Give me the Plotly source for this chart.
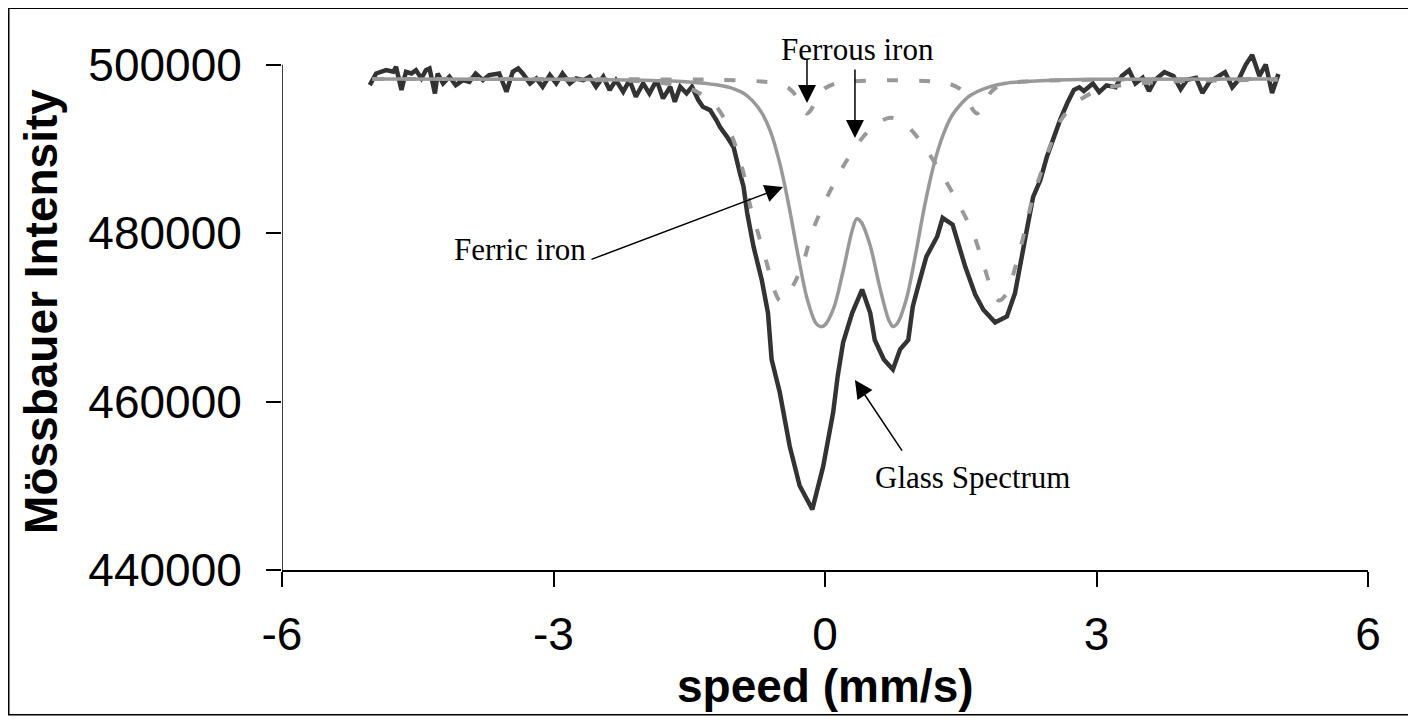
import plotly.graph_objects as go

# measured glass spectrum (speed in mm/s, counts)
speed_glass = [
    -5.03, -4.96, -4.85, -4.77, -4.74, -4.68, -4.63, -4.57, -4.52, -4.46,
    -4.41, -4.37, -4.31, -4.28, -4.22, -4.15, -4.08, -4.00, -3.93, -3.86,
    -3.78, -3.71, -3.60, -3.52, -3.45, -3.39, -3.34, -3.26, -3.19, -3.12,
    -3.04, -2.97, -2.90, -2.82, -2.75, -2.67, -2.60, -2.53, -2.45, -2.38,
    -2.31, -2.23, -2.16, -2.09, -2.01, -1.94, -1.86, -1.79, -1.71, -1.66,
    -1.60, -1.53, -1.47, -1.40, -1.35, -1.27, -1.20, -1.16, -1.08, -1.01,
    -0.94, -0.90, -0.86, -0.79, -0.70, -0.63, -0.59, -0.50, -0.39, -0.28,
    -0.14, -0.02, 0.09, 0.14, 0.20, 0.30, 0.41, 0.50, 0.55, 0.65,
    0.75, 0.83, 0.92, 0.97, 1.05, 1.12, 1.24, 1.30, 1.41, 1.55,
    1.66, 1.75, 1.88, 2.01, 2.10, 2.15, 2.23, 2.30, 2.38, 2.45,
    2.52, 2.60, 2.68, 2.75, 2.81, 2.86, 2.96, 3.03, 3.11, 3.21,
    3.28, 3.36, 3.43, 3.51, 3.58, 3.65, 3.75, 3.85, 3.93, 4.00,
    4.10, 4.17, 4.25, 4.35, 4.42, 4.50, 4.57, 4.65, 4.72, 4.80,
    4.87, 4.94, 5.01,
]
counts_glass = [
    497570, 498950, 499350, 499150, 499740, 496980, 499150, 498950, 499350, 498360,
    499350, 499550, 496580, 498950, 497770, 498560, 497570, 498160, 497960, 498950,
    498160, 498760, 498950, 496780, 499150, 499550, 498950, 497770, 498360, 497370,
    498760, 497770, 498950, 497770, 498360, 498160, 498560, 497370, 498560, 496980,
    498160, 496780, 498160, 496190, 497770, 496580, 498160, 495990, 497370, 495590,
    497370, 496580, 497370, 495800, 495000, 494600, 493400, 492600, 491400, 490200,
    487100, 485500, 482400, 478400, 474500, 470500, 465000, 461100, 454700, 450000,
    447200, 452300, 458700, 463000, 467000, 470500, 473300, 470500, 467300, 465000,
    463800, 466200, 467300, 471300, 474500, 477200, 479600, 481800, 481000, 476000,
    472700, 470900, 469400, 470100, 472900, 476000, 480400, 484300, 486300, 489000,
    491200, 493500, 495500, 497000, 497310, 496860, 497760, 496740, 497540, 497310,
    498660, 499340, 497760, 498440, 496860, 498210, 499110, 498660, 497090, 498210,
    498440, 496640, 497990, 498660, 499110, 497310, 498210, 500010, 501140, 498660,
    500010, 496640, 498890,
]

# fitted ferric doublet
speed_ferric = [
    -5.0, -3.0, -2.0, -1.5, -1.2, -1.0, -0.9, -0.8, -0.7, -0.6,
    -0.5, -0.4, -0.3, -0.2, -0.1, -0.05, 0.0, 0.1, 0.2, 0.3,
    0.35, 0.4, 0.5, 0.6, 0.7, 0.75, 0.8, 0.9, 1.0, 1.1,
    1.2, 1.3, 1.4, 1.5, 1.6, 1.8, 2.0, 2.5, 3.0, 5.0,
]
counts_ferric = [
    498300, 498250, 498150, 497950, 497600, 497100, 496600, 495700, 494300, 492000,
    488300, 483300, 477500, 472300, 469300, 468900, 469100, 471200, 475500, 480300,
    481700, 481300, 478500, 473800, 469800, 468900, 469300, 472200, 477400, 483200,
    488000, 491500, 493900, 495300, 496300, 497300, 497800, 498150, 498250, 498300,
]

# fitted ferrous doublet (broad)
speed_ferrous = [
    -5.0, -3.0, -2.0, -1.6, -1.4, -1.2, -1.1, -1.0, -0.9, -0.83,
    -0.74, -0.64, -0.56, -0.5, -0.44, -0.35, -0.24, -0.14, 0.02, 0.2,
    0.42, 0.6, 0.72, 0.85, 1.05, 1.25, 1.46, 1.64, 1.75, 1.86,
    1.92, 2.0, 2.12, 2.21, 2.29, 2.4, 2.5, 2.6, 2.75, 3.0,
    3.3, 3.8, 5.0,
]
counts_ferrous = [
    498300, 498250, 498000, 497500, 496700, 495000, 493300, 490700, 487100, 483400,
    480000, 476300, 473200, 472000, 472300, 473800, 476500, 480200, 484200, 487900,
    491400, 493200, 493700, 493300, 491000, 487700, 483800, 479900, 476300, 472800,
    472000, 472700, 476600, 480400, 483900, 487600, 490700, 493300, 495300, 496900,
    497600, 498000, 498200,
]

# second ferrous site (narrow, shallow)
speed_ferrous2 = [
    -5.0, -2.0, -1.2, -0.7, -0.5, -0.4, -0.35, -0.3, -0.25, -0.2,
    -0.15, -0.1, -0.05, 0.0, 0.1, 0.3, 0.74, 1.18, 1.38, 1.48,
    1.53, 1.58, 1.63, 1.68, 1.73, 1.78, 1.83, 1.88, 1.98, 2.2,
    3.0, 5.0,
]
counts_ferrous2 = [
    498300, 498250, 498200, 498000, 497700, 497200, 496700, 495900, 494700, 494200,
    494700, 495900, 496700, 497200, 497700, 498000, 498150, 498000, 497700, 497200,
    496700, 495900, 494700, 494200, 494700, 495900, 496700, 497200, 497700, 498000,
    498200, 498300,
]

y_ticks = [440000, 460000, 480000, 500000]
x_ticks = [-6, -3, 0, 3, 6]
x_ticktext = ["-6", "-3", "0", "3", "6"]

fig = go.Figure()
fig.add_trace(go.Scatter(x=speed_glass, y=counts_glass, mode="lines",
                         line=dict(color="#333333", width=4.5), name="Glass Spectrum"))
fig.add_trace(go.Scatter(x=speed_ferric, y=counts_ferric, mode="lines",
                         line=dict(color="#999999", width=3.5, shape="spline", smoothing=0.8),
                         name="Ferric iron"))
fig.add_trace(go.Scatter(x=speed_ferrous, y=counts_ferrous, mode="lines",
                         line=dict(color="#999999", width=4, dash="11px,21px", shape="spline", smoothing=0.8),
                         name="Ferrous iron"))
fig.add_trace(go.Scatter(x=speed_ferrous2, y=counts_ferrous2, mode="lines",
                         line=dict(color="#999999", width=4, dash="11px,21px", shape="spline", smoothing=0.8),
                         name="Ferrous iron 2"))

sans = "Arial, Liberation Sans, sans-serif"
serif = "Times New Roman, Liberation Serif, serif"

# page has an 8px body margin, so the figure is 8px smaller than the window
fig.update_layout(
    width=1408, height=712,
    margin=dict(l=274, r=48, t=44, b=150),
    paper_bgcolor="white", plot_bgcolor="white",
    showlegend=False,
    font=dict(family=sans, color="black"),
)
fig.update_xaxes(range=[-6, 6], tickvals=x_ticks, ticktext=x_ticktext, showgrid=False,
                 zeroline=False, showline=True, linecolor="black", linewidth=1.5,
                 ticks="outside", ticklen=15, tickwidth=1.5, tickcolor="black",
                 tickfont=dict(size=46), ticklabelstandoff=8)
fig.update_yaxes(range=[440000, 501500], tickvals=y_ticks, showgrid=False, zeroline=False,
                 showline=False, ticks="outside", ticklen=15, tickwidth=1.5, tickcolor="black",
                 tickfont=dict(size=46), ticklabelstandoff=15, tickformat="d")

# y spine only up to 500000, frame around the whole chart
fig.add_shape(type="line", xref="x", yref="y", x0=-6, x1=-6, y0=440000, y1=500000,
              line=dict(color="black", width=1.5))
fig.add_shape(type="rect", xref="paper", yref="paper", x0=-0.2516, x1=1.0396,
              y0=-0.2795, y1=1.0845, line=dict(color="black", width=1.5))

# axis titles
fig.add_annotation(text="<b>speed (mm/s)</b>", xref="paper", yref="paper", x=0.5, y=-0.223,
                   xanchor="center", yanchor="middle", showarrow=False, font=dict(size=46))
fig.add_annotation(text="<b>Mössbauer Intensity</b>", xref="paper", yref="paper", x=-0.222, y=0.5,
                   textangle=-90, xanchor="center", yanchor="middle", showarrow=False,
                   font=dict(size=46))

# labels
fig.add_annotation(text="Ferrous iron", x=0.354, y=1.0048, xref="x", yref="paper",
                   showarrow=False, xanchor="center", yanchor="middle",
                   font=dict(family=serif, size=31))
for txt, lx, ly in [("Ferric iron", -3.37, 478110), ("Glass Spectrum", 1.635, 450930)]:
    fig.add_annotation(text=txt, x=lx, y=ly, xref="x", yref="y", showarrow=False,
                       xanchor="center", yanchor="middle", font=dict(family=serif, size=31))

# arrows: (tip x, tip y, tail x, tail y)
for tx, ty, sx, sy in [(-0.199, 495440, -0.199, 500780), (0.331, 491290, 0.331, 499600),
                       (-0.464, 485470, -2.597, 476810), (0.331, 462550, 0.862, 454000)]:
    fig.add_annotation(text="", x=tx, y=ty, ax=sx, ay=sy, xref="x", yref="y",
                       axref="x", ayref="y", showarrow=True, arrowhead=2, arrowsize=2.4,
                       arrowwidth=1.5, arrowcolor="black")

fig.write_html("out.html")
